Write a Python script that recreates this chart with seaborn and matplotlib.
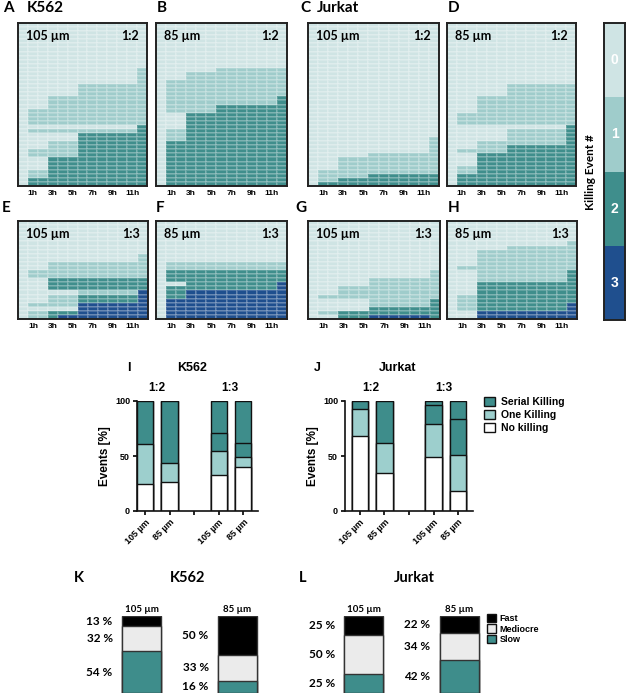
import numpy as np
import seaborn as sns
import matplotlib.pyplot as plt
from matplotlib.colors import ListedColormap
from matplotlib.patches import Patch

# ---- heatmap data: (number of cells, killing count per column 0h..12h) ----
hour_labels = ['1h', '3h', '5h', '7h', '9h', '11h']

panel_A = [(11, '0000000000000'), (4, '0000000000001'), (3, '0000001111111'),
           (3, '0001111111111'), (4, '0111111111111'), (1, '0000000000002'),
           (1, '0111111111112'), (2, '0000002222222'), (2, '0001112222222'),
           (2, '0111112222222'), (3, '0002222222222'), (2, '0112222222222'),
           (2, '0222222222222')]
panel_B = [(11, '0000000000000'), (1, '0000001111111'), (2, '0001111111111'),
           (4, '0111111111111'), (2, '0111111111112'), (2, '0111112222222'),
           (4, '0002222222222'), (3, '0112222222222'), (11, '0222222222222')]
panel_C = [(28, '0000000000000'), (4, '0000000000001'), (1, '0000001111111'),
           (3, '0001111111111'), (1, '0111111111111'), (1, '0111112222222'),
           (1, '0112222222222'), (1, '0222222222222')]
panel_D = [(15, '0000000000000'), (3, '0000001111111'), (4, '0001111111111'),
           (3, '0111111111111'), (1, '0000000000002'), (3, '0000001111112'),
           (1, '0001111111112'), (1, '0001112222222'), (1, '0111112222222'),
           (3, '0002222222222'), (2, '0112222222222'), (3, '0222222222222')]
panel_E = [(8, '0000000000000'), (2, '0000000000001'), (2, '0001111111111'),
           (2, '0111111111111'), (3, '0002222222222'), (1, '0000001111113'),
           (2, '0001112222223'), (1, '0111113333333'), (1, '0000003333333'),
           (1, '0112223333333'), (1, '0112333333333')]
panel_F = [(10, '0000000000000'), (2, '0111111111111'), (3, '0222222222222'),
           (1, '0002222222223'), (1, '0222222222223'), (2, '0223333333333'),
           (5, '0333333333333')]
panel_G = [(12, '0000000000000'), (2, '0000000000001'), (2, '0000001111111'),
           (2, '0001111111111'), (1, '0111111111111'), (2, '0000001111112'),
           (1, '0000002222222'), (1, '0112222222222'), (1, '0002223333332')]
panel_H = [(5, '0000000000000'), (1, '0000000000001'), (1, '0000001111111'),
           (4, '0001111111111'), (1, '0111111111111'), (3, '0001111111112'),
           (3, '0002222222222'), (2, '0112222222222'), (2, '0112222222223'),
           (2, '0003333333333')]

# ---- killing events [%] (I, J) ----
kill_labels = ['105 µm', '85 µm', '', '105 µm', '85 µm']
kill_x = [0, 1, 3, 4]
kill_names = ['Serial Killing', 'One Killing', 'No killing']
k562_no = [25, 26, 33, 40]
k562_one = [36, 18, 22, 9]
k562_two = [39, 56, 16, 13]
k562_three = [0, 0, 29, 38]
jurkat_no = [68, 35, 49, 18]
jurkat_one = [25, 27, 30, 33]
jurkat_two = [7, 38, 17, 33]
jurkat_three = [0, 0, 4, 16]

# ---- killing speed [%] (K, L) ----
speed_names = ['Fast', 'Mediocre', 'Slow']
speed_bars = ['105 µm', '85 µm']
k562_fast = [13, 50]
k562_mediocre = [32, 33]
k562_slow = [54, 16]
jurkat_fast = [25, 22]
jurkat_mediocre = [50, 34]
jurkat_slow = [25, 42]

heat_colors = ['#cfe4e4', '#9fcccb', '#3f8e8c', '#1f4f8e']
c_serial, c_one, c_no = '#3e8d8b', '#9dcfcd', 'white'
c_fast, c_med, c_slow = 'black', '#ebebeb', '#3e8d8b'

W, H = 627, 697
fig = plt.figure(figsize=(W / 100, H / 100), dpi=100)
TITLE = dict(family='Lato', fontweight='bold')
ARIAL = dict(family='Liberation Sans', fontweight='bold')


def rect(x0, y0, x1, y1):
    return [x0 / W, 1 - y1 / H, (x1 - x0) / W, (y1 - y0) / H]


def ftext(x, y, s, **kw):
    kw.setdefault('va', 'center')
    fig.text(x / W, 1 - y / H, s, **kw)


def to_matrix(groups):
    return np.array([[int(c) for c in pat] for n, pat in groups for _ in range(n)])


cmap = ListedColormap(heat_colors)


def draw_heat(box, groups, dist, ratio):
    ax = fig.add_axes(rect(*box))
    sns.heatmap(to_matrix(groups), cmap=cmap, vmin=-0.5, vmax=3.5, cbar=False,
                linewidths=0.2, linecolor=(1, 1, 1, 0.18), ax=ax)
    ax.set_xticks([int(h[:-1]) + 0.5 for h in hour_labels])
    ax.set_xticklabels(hour_labels, rotation=0, fontsize=6, **ARIAL)
    ax.tick_params(axis='x', length=0, pad=3)
    ax.set_yticks([])
    for s in ax.spines.values():
        s.set_visible(True)
        s.set_linewidth(1.4)
        s.set_color('#222')
    ftext(box[0] + 8, box[1] + 13, dist, ha='left', fontsize=9, **TITLE)
    ftext(box[2] - 8, box[1] + 13, ratio, ha='right', fontsize=9, **TITLE)


draw_heat((18, 23, 147, 186), panel_A, '105 µm', '1:2')
draw_heat((156, 23, 287, 186), panel_B, '85 µm', '1:2')
draw_heat((308, 23, 439, 186), panel_C, '105 µm', '1:2')
draw_heat((447, 23, 576, 186), panel_D, '85 µm', '1:2')
draw_heat((18, 221, 148, 319), panel_E, '105 µm', '1:3')
draw_heat((156, 221, 287, 319), panel_F, '85 µm', '1:3')
draw_heat((308, 221, 440, 319), panel_G, '105 µm', '1:3')
draw_heat((447, 221, 577, 319), panel_H, '85 µm', '1:3')

for x, y, s in [(3, 8, 'A'), (157, 8, 'B'), (300, 8, 'C'), (448, 8, 'D'),
                (2, 208, 'E'), (156, 208, 'F'), (295, 208, 'G'), (448, 208, 'H')]:
    ftext(x, y, s, ha='left', fontsize=11, **TITLE)
ftext(27, 8, 'K562', ha='left', fontsize=11, **TITLE)
ftext(317, 8, 'Jurkat', ha='left', fontsize=11, **TITLE)

# colour key
cax = fig.add_axes(rect(604, 23, 625, 320))
sns.heatmap(np.arange(4).reshape(4, 1), cmap=cmap, vmin=-0.5, vmax=3.5, cbar=False,
            annot=True, fmt='d', xticklabels=False, yticklabels=False,
            annot_kws=dict(color='white', fontsize=10, **ARIAL), ax=cax)
for s in cax.spines.values():
    s.set_visible(True)
    s.set_linewidth(1.4)
    s.set_color('#222')
ftext(591, 172, 'Killing Event #', ha='center', rotation=90, fontsize=8.5, **TITLE)


def draw_kill(box, layers, xlim):
    ax = fig.add_axes(rect(*box))
    cum = np.cumsum(np.array(layers), axis=0)
    colors = [c_no, c_one, c_serial, c_serial]
    for i in reversed(range(len(layers))):
        sns.barplot(x=kill_x, y=cum[i], native_scale=True, color=colors[i], saturation=1,
                    width=0.67, edgecolor='#111', linewidth=1.0, errorbar=None, ax=ax)
    ax.set_xlim(*xlim)
    ax.set_ylim(0, 100)
    ax.set_xticks(range(5))
    ax.set_xticklabels(kill_labels, rotation=45, ha='right', va='top',
                       rotation_mode='anchor', fontsize=6.5, **ARIAL)
    ax.set_yticks([0, 50, 100])
    ax.set_yticklabels(['0', '50', '100'], fontsize=6.5, **ARIAL)
    ax.tick_params(width=1.2, length=3, pad=2)
    ax.set_ylabel('Events [%]', fontsize=8.5, labelpad=3, **ARIAL)
    for s in ['top', 'right']:
        ax.spines[s].set_visible(False)
    for s in ['left', 'bottom']:
        ax.spines[s].set_linewidth(1.2)
        ax.spines[s].set_color('#111')
    return ax


draw_kill((137, 401, 258, 511), [k562_no, k562_one, k562_two, k562_three], (-0.33, 4.6))
draw_kill((345, 401, 473, 511), [jurkat_no, jurkat_one, jurkat_two, jurkat_three], (-0.6, 4.6))

ftext(129, 368, 'I', ha='center', fontsize=9, **ARIAL)
ftext(192, 368, 'K562', ha='center', fontsize=9, **ARIAL)
ftext(157, 388, '1:2', ha='center', fontsize=8.5, **ARIAL)
ftext(230, 388, '1:3', ha='center', fontsize=8.5, **ARIAL)
ftext(317, 368, 'J', ha='center', fontsize=9, **ARIAL)
ftext(398, 368, 'Jurkat', ha='center', fontsize=9, **ARIAL)
ftext(371, 388, '1:2', ha='center', fontsize=8.5, **ARIAL)
ftext(444, 388, '1:3', ha='center', fontsize=8.5, **ARIAL)

fig.legend(handles=[Patch(fc=c, ec='#111', lw=1, label=n)
                    for c, n in zip([c_serial, c_one, c_no], kill_names)],
           loc='upper left', bbox_to_anchor=(484 / W, 1 - 397 / H), frameon=False,
           prop=dict(size=7.5, **{'family': 'Liberation Sans', 'weight': 'bold'}),
           handlelength=1.1, handleheight=1.0, handletextpad=0.5, labelspacing=0.25,
           borderpad=0, borderaxespad=0)


def draw_speed(box, fast, med, slow):
    ax = fig.add_axes(rect(*box))
    layers = np.array([slow, med, fast], dtype=float)
    layers = layers / layers.sum(axis=0) * 100
    cum = np.cumsum(layers, axis=0)
    colors = [c_slow, c_med, c_fast]
    for i in reversed(range(3)):
        sns.barplot(x=[0, 1], y=cum[i], native_scale=True, color=colors[i], saturation=1,
                    width=0.41, edgecolor='#333', linewidth=1.0, errorbar=None, ax=ax)
    raw = [slow, med, fast]
    for j in range(2):
        for i in range(3):
            mid = cum[i][j] - layers[i][j] / 2
            ax.text(j - 0.3, mid, f'{raw[i][j]} %', ha='right', va='center',
                    fontsize=8.5, **TITLE)
        ax.text(j, 102, speed_bars[j], ha='center', va='bottom', fontsize=7, **TITLE)
    ax.set_xlim(-0.5, 1.5)
    ax.set_ylim(0, 100)
    ax.axis('off')


draw_speed((93.5, 616, 285.5, 693), k562_fast, k562_mediocre, k562_slow)
draw_speed((315.75, 616, 507, 693), jurkat_fast, jurkat_mediocre, jurkat_slow)

ftext(79, 578, 'K', ha='center', fontsize=10.5, **TITLE)
ftext(188, 578, 'K562', ha='center', fontsize=10.5, **TITLE)
ftext(303, 578, 'L', ha='center', fontsize=10.5, **TITLE)
ftext(414, 578, 'Jurkat', ha='center', fontsize=10.5, **TITLE)

fig.legend(handles=[Patch(fc=c, ec='#111', lw=1, label=n)
                    for c, n in zip([c_fast, c_med, c_slow], speed_names)],
           loc='upper left', bbox_to_anchor=(487 / W, 1 - 614 / H), frameon=False,
           prop=dict(size=6.5, **{'family': 'Liberation Sans', 'weight': 'bold'}),
           handlelength=1.0, handleheight=1.0, handletextpad=0.4, labelspacing=0.15,
           borderpad=0, borderaxespad=0)

fig.savefig('out.png', dpi=100)
